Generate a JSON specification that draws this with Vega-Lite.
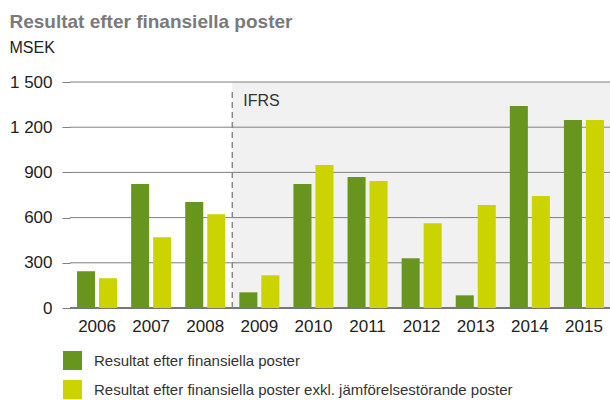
{
  "$schema": "https://vega.github.io/schema/vega-lite/v6.json",
  "width": 541,
  "height": 226,
  "padding": {"left": 9, "top": 13, "right": 0, "bottom": 0},
  "background": "white",
  "config": {
    "font": "Liberation Sans",
    "view": {"stroke": null}
  },
  "title": {
    "text": "Resultat efter finansiella poster",
    "subtitle": "MSEK",
    "anchor": "start",
    "frame": "bounds",
    "font": "Liberation Sans",
    "fontSize": 19,
    "fontWeight": "bold",
    "color": "#7a7a7a",
    "subtitleFont": "Liberation Sans",
    "subtitleFontSize": 16,
    "subtitleColor": "#222222",
    "subtitlePadding": 8,
    "offset": 17
  },
  "resolve": {"scale": {"x": "independent"}, "axis": {"x": "independent"}},
  "layer": [
    {
      "data": {"values": [{"s": 3, "e": 10, "lo": 0, "hi": 1500}]},
      "mark": {"type": "rect", "color": "#f1f1f1"},
      "encoding": {
        "x": {"field": "s", "type": "quantitative", "scale": {"domain": [0, 10], "nice": false, "zero": false}, "axis": null},
        "x2": {"field": "e"},
        "y": {"field": "lo", "type": "quantitative", "scale": {"domain": [0, 1500], "nice": false}, "axis": {"values": [0, 300, 600, 900, 1200, 1500], "grid": false, "domain": false, "tickSize": 8, "tickColor": "#808080", "tickWidth": 1, "labelFontSize": 17, "labelColor": "#222222", "labelPadding": 10, "title": null, "labelExpr": "replace(format(datum.value, ','), ',', ' ')"}},
        "y2": {"field": "hi"}
      }
    },
    {
      "data": {"values": [{"v": 300}, {"v": 600}, {"v": 900}, {"v": 1200}, {"v": 1500}]},
      "mark": {"type": "rule", "color": "#808080", "strokeWidth": 1},
      "encoding": {"y": {"field": "v", "type": "quantitative"}}
    },
    {
      "data": {"values": [{"v": 0}]},
      "mark": {"type": "rule", "color": "#777777", "strokeWidth": 2},
      "encoding": {"y": {"field": "v", "type": "quantitative"}}
    },
    {
      "data": {"values": [{"s": 3, "lo": 0, "hi": 1460}]},
      "mark": {"type": "rule", "color": "#888888", "strokeWidth": 1.5, "strokeDash": [6, 4]},
      "encoding": {
        "x": {"field": "s", "type": "quantitative", "scale": {"domain": [0, 10], "nice": false, "zero": false}, "axis": null},
        "y": {"field": "lo", "type": "quantitative"},
        "y2": {"field": "hi"}
      }
    },
    {
      "data": {"values": [{"s": 3, "pos": 1373, "label": "IFRS"}]},
      "mark": {"type": "text", "align": "left", "baseline": "middle", "dx": 11, "fontSize": 16, "color": "#333333"},
      "encoding": {
        "x": {"field": "s", "type": "quantitative", "scale": {"domain": [0, 10], "nice": false, "zero": false}, "axis": null},
        "y": {"field": "pos", "type": "quantitative"},
        "text": {"field": "label"}
      }
    },
    {
      "data": {"values": [
        {"year": "2006", "series": "Resultat efter finansiella poster", "value": 244},
        {"year": "2006", "series": "Resultat efter finansiella poster exkl. jämförelsestörande poster", "value": 197},
        {"year": "2007", "series": "Resultat efter finansiella poster", "value": 823},
        {"year": "2007", "series": "Resultat efter finansiella poster exkl. jämförelsestörande poster", "value": 470},
        {"year": "2008", "series": "Resultat efter finansiella poster", "value": 703},
        {"year": "2008", "series": "Resultat efter finansiella poster exkl. jämförelsestörande poster", "value": 623},
        {"year": "2009", "series": "Resultat efter finansiella poster", "value": 104},
        {"year": "2009", "series": "Resultat efter finansiella poster exkl. jämförelsestörande poster", "value": 217},
        {"year": "2010", "series": "Resultat efter finansiella poster", "value": 823},
        {"year": "2010", "series": "Resultat efter finansiella poster exkl. jämförelsestörande poster", "value": 949},
        {"year": "2011", "series": "Resultat efter finansiella poster", "value": 869},
        {"year": "2011", "series": "Resultat efter finansiella poster exkl. jämförelsestörande poster", "value": 843},
        {"year": "2012", "series": "Resultat efter finansiella poster", "value": 330},
        {"year": "2012", "series": "Resultat efter finansiella poster exkl. jämförelsestörande poster", "value": 563},
        {"year": "2013", "series": "Resultat efter finansiella poster", "value": 84},
        {"year": "2013", "series": "Resultat efter finansiella poster exkl. jämförelsestörande poster", "value": 683},
        {"year": "2014", "series": "Resultat efter finansiella poster", "value": 1341},
        {"year": "2014", "series": "Resultat efter finansiella poster exkl. jämförelsestörande poster", "value": 743},
        {"year": "2015", "series": "Resultat efter finansiella poster", "value": 1248},
        {"year": "2015", "series": "Resultat efter finansiella poster exkl. jämförelsestörande poster", "value": 1248}
      ]},
      "mark": {"type": "bar"},
      "encoding": {
        "x": {"field": "year", "type": "ordinal", "scale": {"paddingInner": 0.26, "paddingOuter": 0.13}, "axis": {"title": null, "domain": false, "ticks": false, "labelAngle": 0, "labelFontSize": 17, "labelColor": "#222222", "labelPadding": 10}},
        "xOffset": {"field": "series", "type": "nominal", "scale": {"paddingInner": 0.18}},
        "y": {"field": "value", "type": "quantitative"},
        "color": {
          "field": "series", "type": "nominal",
          "scale": {"domain": ["Resultat efter finansiella poster", "Resultat efter finansiella poster exkl. jämförelsestörande poster"], "range": ["#68951e", "#cbd300"]},
          "legend": {"title": null, "orient": "none", "legendX": -7, "legendY": 269, "direction": "vertical", "padding": 0, "symbolType": "square", "symbolSize": 361, "symbolStrokeWidth": 0, "symbolOpacity": 1, "labelFontSize": 15, "labelColor": "#333333", "labelOffset": 12, "rowPadding": 10, "labelLimit": 600}
        }
      }
    }
  ]
}
